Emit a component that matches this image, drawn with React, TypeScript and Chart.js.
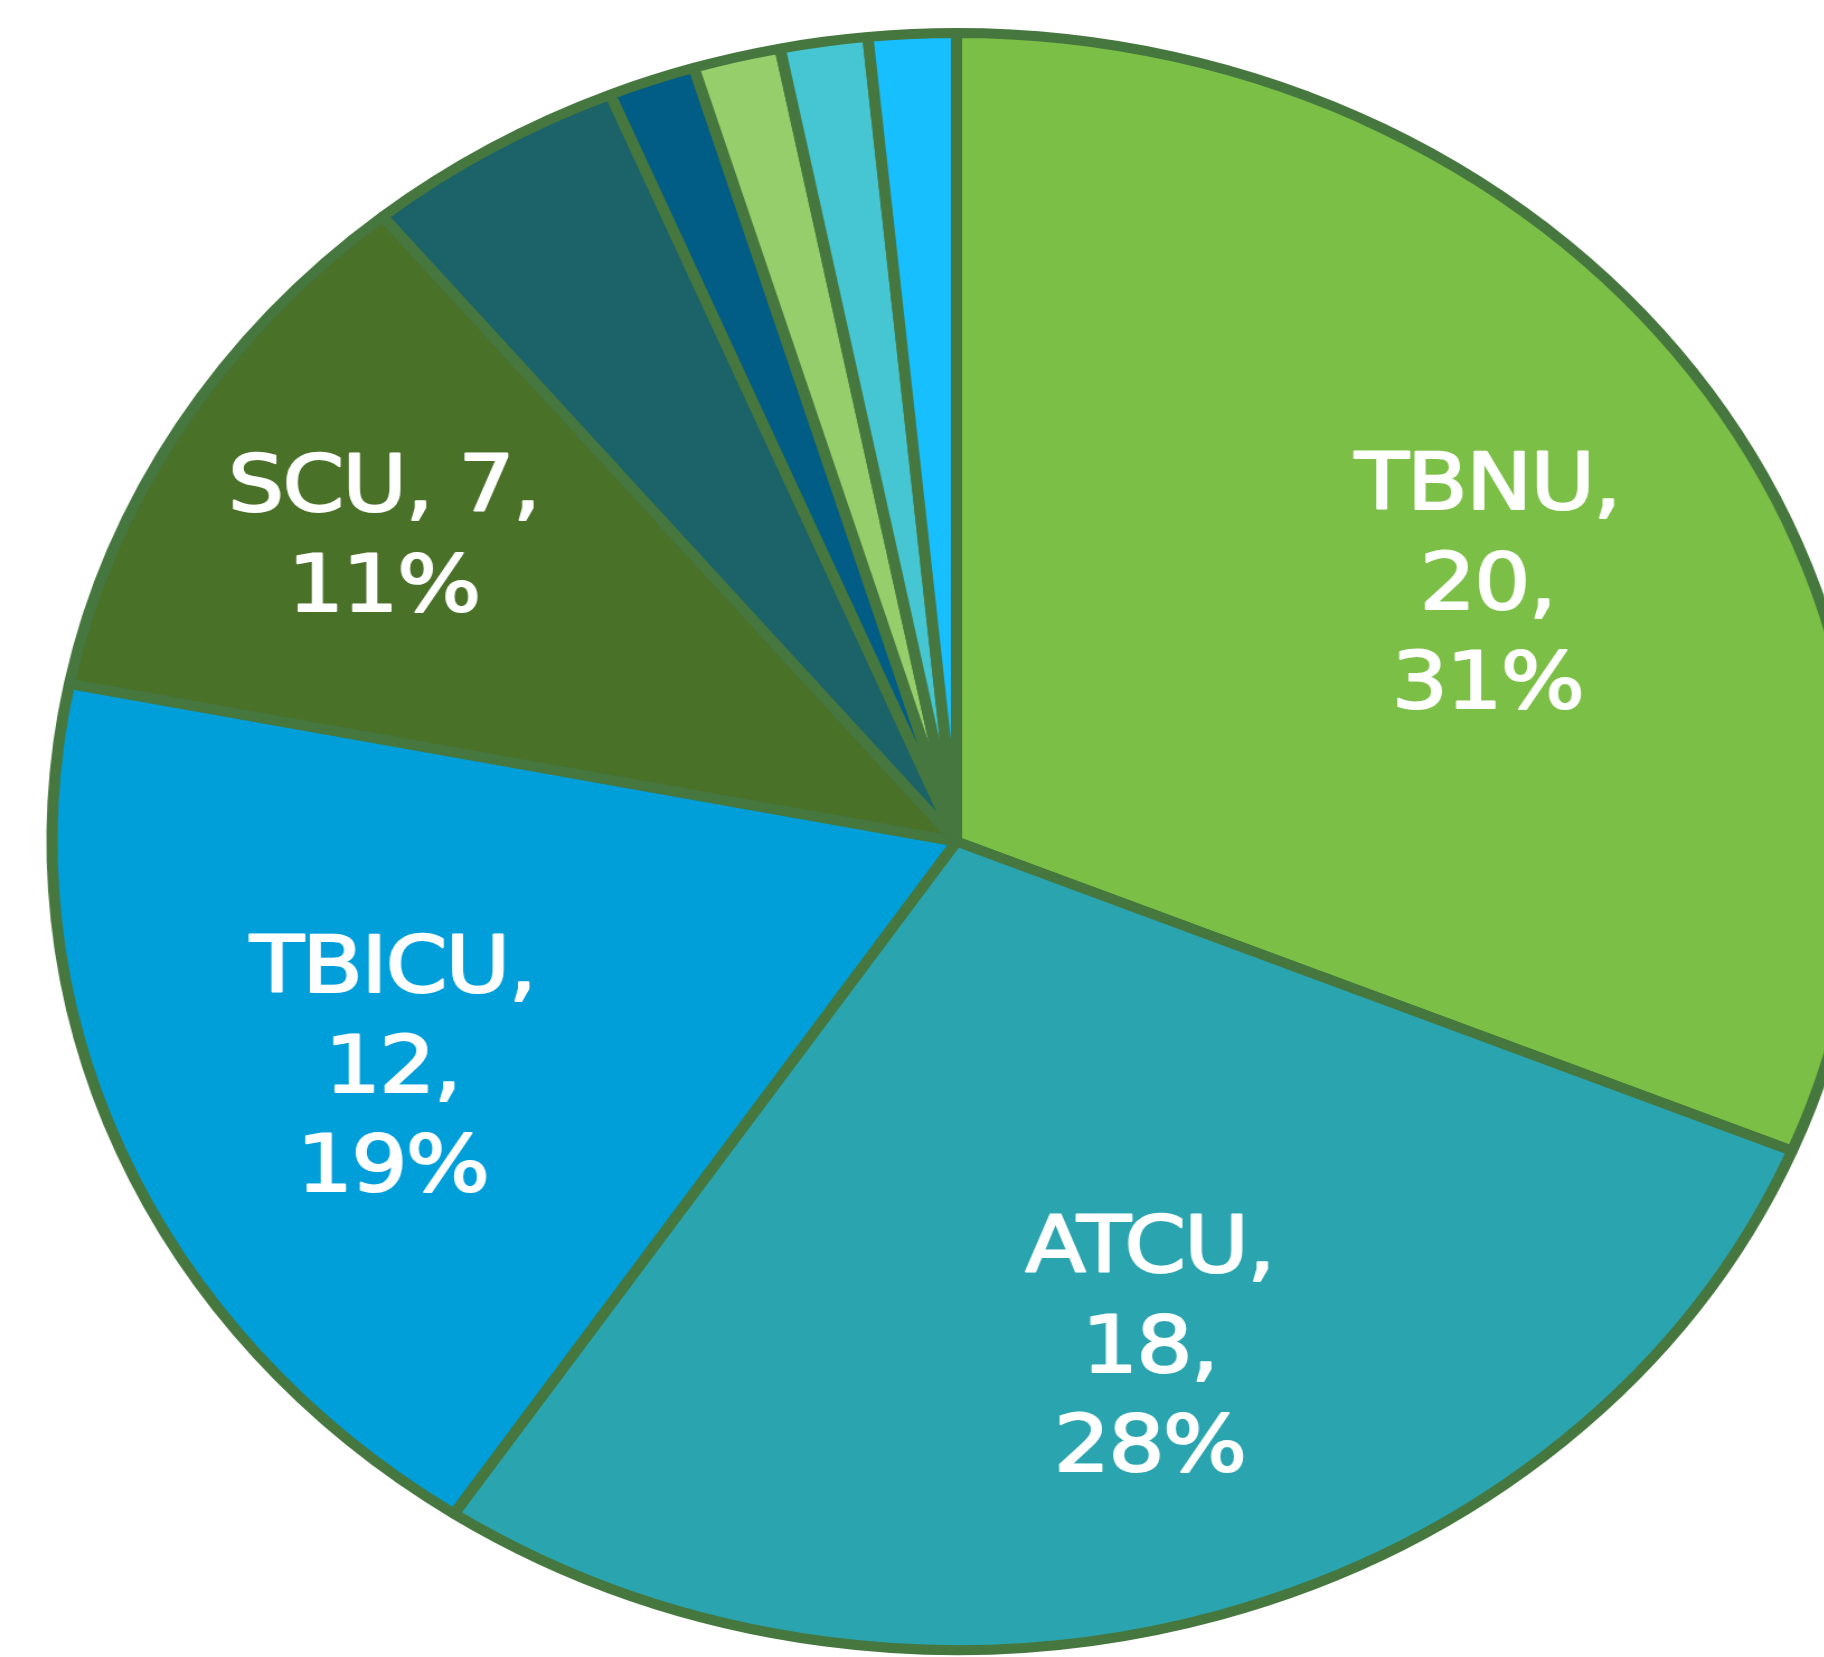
import React, { useEffect, useRef } from "react";
import { Chart, registerables } from "chart.js";

Chart.register(...registerables);

const categories = ["TBNU", "ATCU", "TBICU", "SCU", "Other A", "Other B", "Other C", "Other D", "Other E"];
const counts = [20, 18, 12, 7, 3, 1, 1, 1, 1];
const sliceColors = ["#7BBF46", "#2AA5AF", "#019FD9", "#4A7128", "#1B6369", "#015D85", "#95CE6B", "#45C6D2", "#18BFFF"];
const labelledSlices = [0, 1, 2, 3];
const labelLines = [
  ["TBNU,", "20,", "31%"],
  ["ATCU,", "18,", "28%"],
  ["TBICU,", "12,", "19%"],
  ["SCU, 7,", "11%"],
];

const STRETCH = 1.119;
const CANVAS_W = 1710;
const CANVAS_H = 1657;

const labelPlugin = {
  id: "sliceLabels",
  afterDatasetsDraw(chart: any, _args: any, opts: any) {
    const ctx = chart.ctx;
    const meta = chart.getDatasetMeta(0);
    ctx.save();
    ctx.fillStyle = "#FFFFFF";
    ctx.strokeStyle = "#FFFFFF";
    ctx.lineWidth = opts.strokeWidth;
    ctx.lineJoin = "round";
    ctx.font = `${opts.fontSize}px "DejaVu Sans"`;
    try {
      (ctx as any).letterSpacing = opts.letterSpacing;
    } catch (e) {}
    ctx.textAlign = "center";
    ctx.textBaseline = "alphabetic";
    labelledSlices.forEach((idx, k) => {
      const arc = meta.data[idx];
      const mid = (arc.startAngle + arc.endAngle) / 2 + (opts.angleShift[k] * Math.PI) / 180;
      const r = arc.outerRadius * opts.radiusFrac[k];
      const cx = arc.x + Math.cos(mid) * r;
      const cy = arc.y + Math.sin(mid) * r;
      const lines = labelLines[k];
      const lh = opts.lineHeight;
      const capH = opts.fontSize * 0.729;
      const blockH = capH + lh * (lines.length - 1);
      const firstBase = cy - blockH / 2 + capH;
      lines.forEach((t, j) => {
        ctx.strokeText(t, cx, firstBase + j * lh);
        ctx.fillText(t, cx, firstBase + j * lh);
      });
    });
    ctx.restore();
  },
};

export default function App() {
  const ref = useRef<HTMLCanvasElement>(null);
  useEffect(() => {
    if (!ref.current) return;
    const chart = new Chart(ref.current, {
      type: "pie",
      data: {
        labels: categories,
        datasets: [
          {
            data: counts,
            backgroundColor: sliceColors,
            borderColor: "#46773F",
            borderWidth: 10,
            borderAlign: "center",
          },
        ],
      },
      options: {
        responsive: false,
        animation: false,
        layout: { padding: { top: 28, bottom: 2, left: 0, right: 0 } },
        plugins: {
          legend: { display: false },
          tooltip: { enabled: false },
          sliceLabels: {
            fontSize: 79,
            lineHeight: 99.5,
            strokeWidth: 2,
            letterSpacing: "-1.5px",
            radiusFrac: [0.67, 0.656, 0.681, 0.74],
            angleShift: [4.9, -2.1, -1.2, 0.2],
          },
        } as any,
      },
      plugins: [labelPlugin],
    });
    return () => chart.destroy();
  }, []);
  return (
    <div
      style={{
        position: "absolute",
        top: 0,
        left: 0,
        width: 1824,
        height: 1657,
        overflow: "hidden",
        background: "#FFFFFF",
      }}
    >
      <canvas
        ref={ref}
        width={CANVAS_W}
        height={CANVAS_H}
        style={{ width: `${CANVAS_W * STRETCH}px`, height: `${CANVAS_H}px`, display: "block" }}
      />
    </div>
  );
}
